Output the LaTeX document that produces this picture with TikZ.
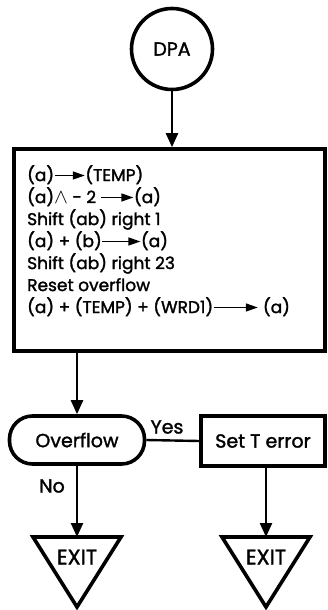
\documentclass[tikz,border=0pt]{standalone}
\usepackage{fontspec}
\setmainfont{Poppins}[FakeBold=1.6,AutoFakeBold=1.6]
\usetikzlibrary{arrows.meta,shapes.misc}
\newcommand{\txtarrow}[1]{\tikz[baseline=-0.6ex,x=1pt,y=1pt]\draw[line width=1.3pt,-{Triangle[length=12pt,width=8pt]}] (0,0)--(#1,0);}
\begin{document}
\begin{tikzpicture}[x=1pt,y=-1pt,
  shp/.style={draw,line width=3.6pt,inner sep=0pt,font=\fontsize{19}{22}\selectfont},
  arr/.style={line width=2.4pt,-{Triangle[length=14pt,width=12pt]}},
  lbl/.style={font=\fontsize{19}{22}\selectfont,inner sep=0pt},
  exitbox/.style={line width=3.6pt,line join=miter}]
\useasboundingbox (0,0) rectangle (328,610);
\node[shp,circle,minimum size=81pt] (dpa) at (172,49) {DPA};
\node[shp,rectangle,minimum width=311pt,minimum height=202pt] (box) at (169.5,250) {};
\node[lbl,anchor=north west,align=left,font=\fontsize{17}{22}\selectfont] (txt) at (27,165) {%
(a)\txtarrow{30}(TEMP)\\
(a){\fontsize{20}{22}\selectfont$\wedge$} - 2 \txtarrow{32}(a)\\
Shift (ab) right 1\\
(a) + (b)\txtarrow{38}(a)\\
Shift (ab) right 23\\
Reset overflow\\
(a) + (TEMP) + (WRD1)\txtarrow{44} (a)};
\node[shp,rectangle,rounded corners=23pt,minimum width=135pt,minimum height=48pt] (ovf) at (77,440) {Overflow};
\node[shp,rectangle,minimum width=124pt,minimum height=50pt] (ste) at (263,441) {Set T error};
\coordinate (ex1top) at (77,537);
\coordinate (ex2top) at (266,537);
\draw[exitbox] (33,537) -- (121,537) -- (77,607) -- cycle;
\draw[exitbox] (222,537) -- (310,537) -- (266,607) -- cycle;
\node[lbl,font=\fontsize{21}{22}\selectfont] (ex1) at (77,557) {EXIT};
\node[lbl,font=\fontsize{21}{22}\selectfont] (ex2) at (266,557) {EXIT};
\draw[arr] (dpa.south) -- (box.north -| dpa.south);
\draw[arr] (box.south -| ovf.north) -- (ovf.north);
\draw[line width=2.4pt] (ovf.east) -- (ste.west);
\node[lbl] (yes) at (167,427) {Yes};
\node[lbl] (no) at (52,486) {No};
\draw[arr] (ovf.south) -- (ex1top);
\draw[arr] (ste.south -| ex2top) -- (ex2top);
\end{tikzpicture}
\end{document}
